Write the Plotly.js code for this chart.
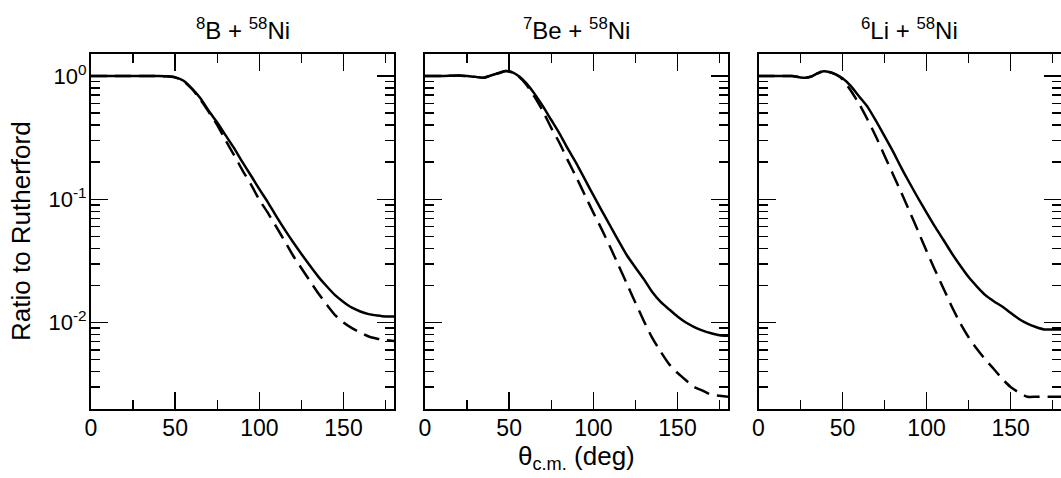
<!DOCTYPE html>
<html><head><meta charset="utf-8">
<script src="https://cdn.plot.ly/plotly-3.0.1.min.js"></script>
<style>html,body{margin:0;padding:0;background:#fff;} #chart{width:1061px;height:478px;}</style>
</head><body><div id="chart"></div>
<script>
// Panel titles
const panelTitles = ["<sup>8</sup>B + <sup>58</sup>Ni", "<sup>7</sup>Be + <sup>58</sup>Ni", "<sup>6</sup>Li + <sup>58</sup>Ni"];

// 8B + 58Ni
const angles8B = [0,10,20,30,40,45,50,55,60,65,70,75,80,85,90,95,100,105,110,115,120,125,130,135,140,145,150,155,160,165,170,175,180];
const solid8B  = [1.0,1.0,1.0,1.0,1.0,0.995,0.975,0.915,0.79,0.66,0.52,0.42,0.33,0.26,0.20,0.156,0.121,0.095,0.073,0.057,0.045,0.036,0.029,0.0236,0.0197,0.0167,0.0147,0.0132,0.0123,0.0117,0.0114,0.0112,0.0112];
const dashed8B = [1.0,1.0,1.0,1.0,1.0,0.995,0.975,0.91,0.785,0.645,0.51,0.40,0.30,0.228,0.172,0.132,0.099,0.078,0.060,0.046,0.035,0.0276,0.0218,0.0173,0.0140,0.0115,0.0100,0.0090,0.0083,0.0077,0.0074,0.0072,0.0071];

// 7Be + 58Ni
const angles7Be = [0,10,20,25,30,35,40,45,48,52,56,60,65,70,75,80,85,90,95,100,105,110,115,120,125,130,135,140,145,150,155,160,165,170,175,180];
const solid7Be  = [1.0,1.0,1.01,1.0,0.985,0.97,1.02,1.07,1.10,1.07,0.99,0.88,0.72,0.57,0.44,0.34,0.255,0.195,0.145,0.108,0.081,0.061,0.046,0.035,0.028,0.0225,0.0177,0.0147,0.0128,0.0112,0.0100,0.0092,0.0086,0.0082,0.0079,0.0078];
const dashed7Be = [1.0,1.0,1.01,1.0,0.985,0.97,1.02,1.07,1.10,1.07,0.98,0.86,0.68,0.52,0.38,0.285,0.205,0.15,0.108,0.078,0.057,0.041,0.029,0.0205,0.0145,0.0103,0.0075,0.0058,0.0046,0.0039,0.0034,0.0030,0.0028,0.0026,0.00255,0.0025];

// 6Li + 58Ni
const angles6Li = [0,10,15,20,25,28,32,35,38,42,46,50,55,60,65,70,75,80,85,90,95,100,105,110,115,120,125,130,135,140,145,150,155,160,165,170,175,180];
const solid6Li  = [1.0,1.0,1.0,1.0,0.975,0.97,1.0,1.05,1.09,1.08,1.03,0.96,0.83,0.68,0.56,0.43,0.325,0.245,0.18,0.135,0.102,0.078,0.060,0.047,0.0365,0.029,0.0234,0.0196,0.0167,0.0149,0.0135,0.0120,0.0107,0.0098,0.0092,0.0088,0.0088,0.0088];
const dashed6Li = [1.0,1.0,1.0,1.0,0.975,0.97,1.0,1.05,1.09,1.08,1.03,0.94,0.76,0.59,0.44,0.32,0.226,0.16,0.113,0.079,0.055,0.038,0.0267,0.019,0.0135,0.0099,0.0076,0.0061,0.0050,0.0042,0.0035,0.0030,0.0027,0.0025,0.0025,0.0025,0.0025,0.0025];

const xTickVals = [0,50,100,150];
const yTickVals = [1,0.1,0.01];
const yTickText = ["10<sup>0</sup>","10<sup>-1</sup>","10<sup>-2</sup>"];
const yMinorVals = [];
[0.001,0.01,0.1].forEach(d=>{for(let k=2;k<=9;k++){yMinorVals.push(+(k*d).toPrecision(3));}});

const W = 1061, H = 478;
const FONT = '"Liberation Sans", Arial, Helvetica, sans-serif';
const panels = [
  {x: angles8B, s: solid8B, d: dashed8B, dom: [91, 394]},
  {x: angles7Be, s: solid7Be, d: dashed7Be, dom: [425, 728]},
  {x: angles6Li, s: solid6Li, d: dashed6Li, dom: [758.5, 1061]}
];
const yDom = [1 - 408.7/H, 1 - 54/H];

const traces = [];
const layout = {
  width: W, height: H,
  margin: {l:0, r:0, t:0, b:0},
  paper_bgcolor: '#fff', plot_bgcolor: '#fff',
  showlegend: false,
  font: {family: FONT, color: '#000', size: 23},
  annotations: []
};

panels.forEach((p, i) => {
  const n = i === 0 ? '' : String(i+1);
  const xa = 'x' + n, ya = 'y' + n;
  traces.push({x: p.x, y: p.s, xaxis: xa, yaxis: ya, type: 'scatter', mode: 'lines',
    line: {color: '#000', width: 2.5, shape: 'spline', smoothing: 0.6}, hoverinfo: 'skip'});
  traces.push({x: p.x, y: p.d, xaxis: xa, yaxis: ya, type: 'scatter', mode: 'lines',
    line: {color: '#000', width: 2.5, dash: '16px,8px', shape: 'spline', smoothing: 0.6}, hoverinfo: 'skip'});
  layout['xaxis' + n] = {
    domain: [p.dom[0]/W, p.dom[1]/W], anchor: ya, range: [0, 180],
    showgrid: false, zeroline: false, showline: true, linecolor: '#000', linewidth: 2,
    mirror: 'ticks', ticks: 'inside', ticklen: 17, tickwidth: 1.5, tickcolor: '#000',
    tickmode: 'array', tickvals: xTickVals, ticktext: xTickVals.map(String),
    tickfont: {size: 23, family: FONT, color: '#000'}, ticklabelstandoff: -2,
    minor: {ticks: 'inside', ticklen: 9, tickwidth: 1.5, tickcolor: '#000', tickmode: 'linear', tick0: 0, dtick: 25, showgrid: false}
  };
  layout['yaxis' + n] = {
    domain: yDom, anchor: xa, type: 'log', range: [Math.log10(0.002), Math.log10(1.51)],
    showgrid: false, zeroline: false, showline: true, linecolor: '#000', linewidth: 2,
    mirror: 'ticks', ticks: 'inside', ticklen: 17, tickwidth: 1.5, tickcolor: '#000',
    tickmode: 'array', tickvals: yTickVals, ticktext: yTickText,
    showticklabels: i === 0,
    tickfont: {size: 22, family: FONT, color: '#000'}, ticklabelstandoff: -2,
    minor: {ticks: 'inside', ticklen: 9, tickwidth: 1.5, tickcolor: '#000', tickmode: 'array', tickvals: yMinorVals, showgrid: false}
  };
  layout.annotations.push({
    xref: 'paper', yref: 'paper', x: (p.dom[0]+p.dom[1])/2/W, y: 1 - 29/H,
    xanchor: 'center', yanchor: 'middle', showarrow: false,
    text: panelTitles[i], font: {size: 24, family: FONT, color: '#000'}
  });
});

layout.annotations.push({
  xref: 'paper', yref: 'paper', x: 21/W, y: 1 - 231/H, xanchor: 'center', yanchor: 'middle',
  showarrow: false, textangle: -90, text: 'Ratio to Rutherford', font: {size: 26, family: FONT, color: '#000'}
});
layout.annotations.push({
  xref: 'paper', yref: 'paper', x: 576.5/W, y: 1 - 457/H, xanchor: 'center', yanchor: 'middle',
  showarrow: false, text: 'θ<sub>c.m.</sub> (deg)', font: {size: 26, family: FONT, color: '#000'}
});

Plotly.newPlot('chart', traces, layout, {staticPlot: true, displayModeBar: false});
</script>
</body></html>
